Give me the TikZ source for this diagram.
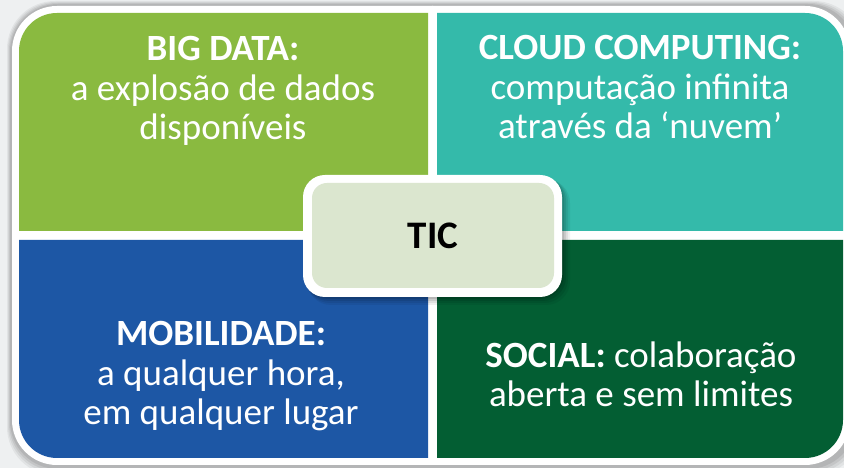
\documentclass[tikz,border=0pt]{standalone}
\usepackage{fontspec}
\setmainfont{Carlito}
\definecolor{bgc}{HTML}{EEF0F1}
\definecolor{qgreen}{HTML}{8ABA40}
\definecolor{qteal}{HTML}{34BAAA}
\definecolor{qblue}{HTML}{1D57A5}
\definecolor{qdark}{HTML}{035E33}
\definecolor{ticfill}{HTML}{DBE6CF}
\tikzset{
  qtext/.style={text=white, align=center, anchor=base, inner sep=0pt,
    font=\fontsize{37}{39.5}\selectfont},
}
\begin{document}
\begin{tikzpicture}[x=1pt,y=1pt]
\useasboundingbox (0,0) rectangle (844,468);
\clip (0,0) rectangle (844,468);
\fill[bgc] (0,0) rectangle (844,468);
% soft shadows
\foreach \o/\op in {10/0.05,8/0.06,6/0.07,4/0.08} {
  \fill[black,opacity=\op,rounded corners=48] (12-\o/2,3-\o) rectangle (852+\o,462+\o/2);
}
% white borders
\fill[white] (428+5,237-5) -- (12,237-5) -- (12,455+7-45) arc (180:90:45) -- (428+5,462) -- cycle;
\fill[white] (437-5,237-5) -- (437-5,462) -- (850-45,462) arc (90:0:45) -- (850,237-5) -- cycle;
\fill[white] (428+5,228+5) -- (12,228+5) -- (12,3+45) arc (180:270:45) -- (428+5,3) -- cycle;
\fill[white] (437-5,228+5) -- (850,228+5) -- (850,3+45) arc (0:-90:45) -- (437-5,3) -- cycle;
% quadrants
\fill[qgreen] (428,237) -- (19,237) -- (19,455-38) arc (180:90:38) -- (428,455) -- cycle;
\fill[qteal] (437,237) -- (437,455) -- (843-38,455) arc (90:0:38) -- (843,237) -- cycle;
\fill[qblue] (428,228) -- (19,228) -- (19,10+38) arc (180:270:38) -- (428,10) -- cycle;
\fill[qdark] (437,228) -- (843,228) -- (843,10+38) arc (0:-90:38) -- (437,10) -- cycle;
% texts (anchor base = last line's baseline)
\node[qtext] (bigdata) at (223,328) {\textbf{BIG DATA:}\\a explosão de dados\\disponíveis};
\node[qtext] (cloud) at (640,329) {\textbf{CLOUD COMPUTING:}\\computação infinita\\através da ‘nuvem’};
\node[qtext] (mob) at (221,43) {\textbf{MOBILIDADE:}\\a qualquer hora,\\em qualquer lugar};
\node[qtext] (social) at (641,61) {\textbf{SOCIAL:} colaboração\\aberta e sem limites};
% center box shadow
\foreach \o/\op in {8/0.06,6/0.07,4/0.09,2/0.1} {
  \fill[black,opacity=\op,rounded corners=24] (303+\o/2,171-\o) rectangle (562+\o,293-\o/2);
}
\fill[white,rounded corners=22] (303,171) rectangle (562,293);
\node[fill=ticfill, rounded corners=15, minimum width=242, minimum height=105, inner sep=0pt,
  font=\fontsize{39}{42}\selectfont\bfseries, text=black] (tic) at (433,232.5) {TIC};
\end{tikzpicture}
\end{document}
